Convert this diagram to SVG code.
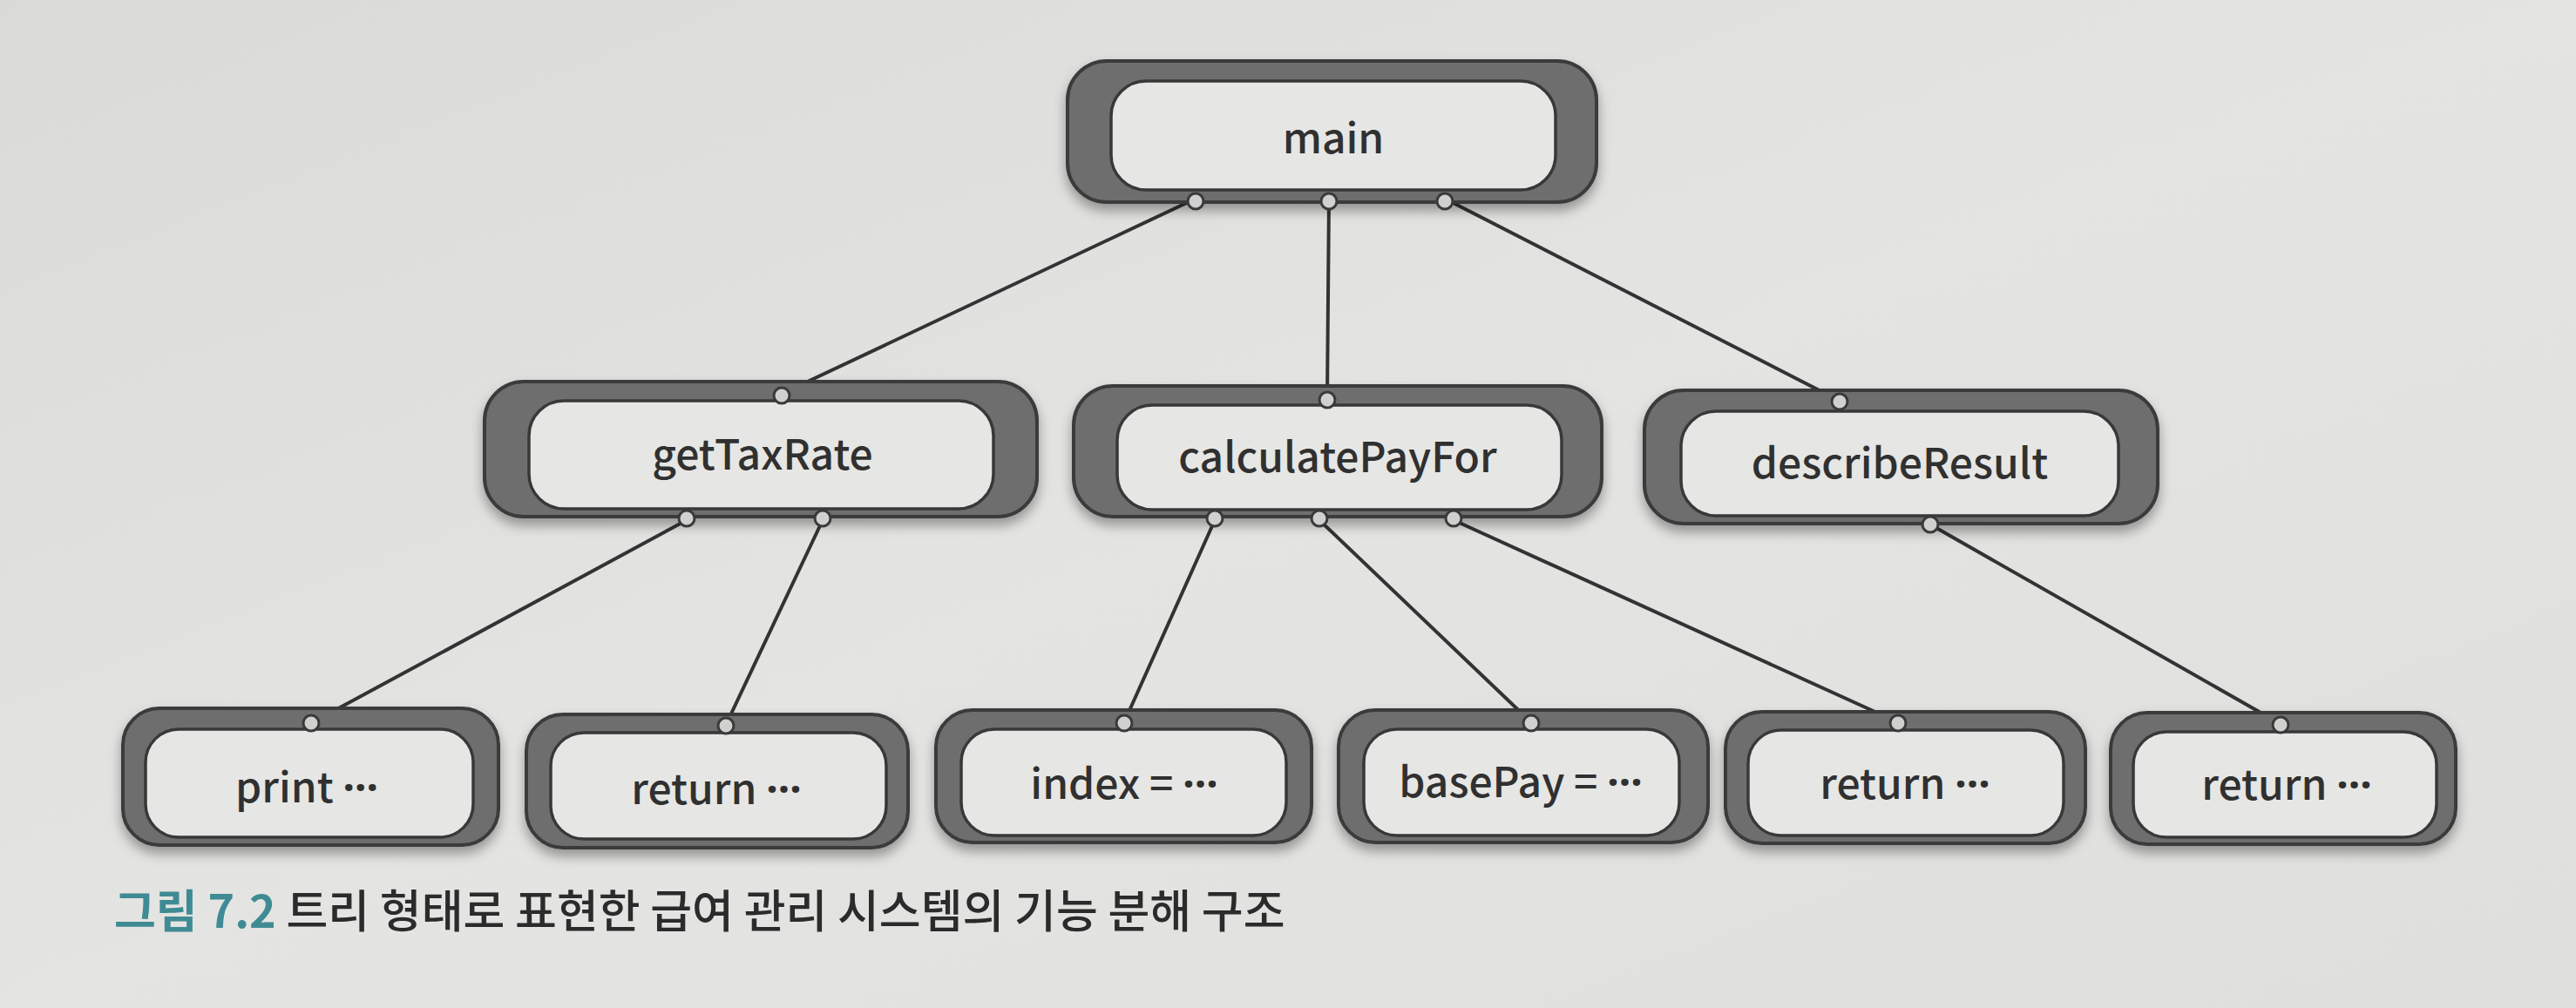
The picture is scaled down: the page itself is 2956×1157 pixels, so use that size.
<svg xmlns="http://www.w3.org/2000/svg" width="2956" height="1157" viewBox="0 0 2956 1157">
<defs>
<linearGradient id="bg" x1="0" y1="0" x2="1" y2="1">
<stop offset="0" stop-color="#dadad8"/>
<stop offset="0.5" stop-color="#e4e4e2"/>
<stop offset="1" stop-color="#dfdfdd"/>
</linearGradient>
<filter id="sh" x="-10%" y="-20%" width="120%" height="150%">
<feDropShadow dx="0" dy="8" stdDeviation="7" flood-color="#000" flood-opacity="0.35"/>
</filter>
<style>
.outer{fill:#6e6e6e;stroke:#3a3a3a;stroke-width:4;filter:url(#sh)}
.inner{fill:#e6e6e4;stroke:#383838;stroke-width:3.5}
.lbl{font-family:"Noto Sans CJK KR","Noto Sans",sans-serif;font-size:48px;font-weight:500;fill:#303030;text-anchor:middle}
.el{font-family:"Noto Sans",sans-serif;font-weight:700;letter-spacing:0px}
.dot{fill:#d0d0ce;stroke:#3a3a3a;stroke-width:3}
.conn line{stroke:#333;stroke-width:4;stroke-linecap:round}
.cap{font-family:"Noto Sans CJK KR",sans-serif;font-size:52px;font-weight:500}
</style>
</defs>
<rect width="2956" height="1157" fill="url(#bg)"/>

<g id="connectors" class="conn">
<line x1="1372" y1="228" x2="897" y2="452"/>
<line x1="1525" y1="228" x2="1523" y2="458"/>
<line x1="1658" y1="228" x2="2111" y2="460"/>
<line x1="788" y1="597" x2="357" y2="830"/>
<line x1="944" y1="597" x2="833" y2="832"/>
<line x1="1394" y1="597" x2="1290" y2="829"/>
<line x1="1514" y1="597" x2="1757" y2="829"/>
<line x1="1668" y1="597" x2="2178" y2="829"/>
<line x1="2215" y1="602" x2="2617" y2="831"/>
</g>

<g id="main">
<rect class="outer" x="1225" y="70" width="607" height="162" rx="45"/>
<rect class="inner" x="1275" y="93" width="510" height="125" rx="40"/>
<text class="lbl" x="1530" y="176">main</text>
<circle class="dot" cx="1372" cy="231" r="9"/>
<circle class="dot" cx="1525" cy="231" r="9"/>
<circle class="dot" cx="1658" cy="231" r="9"/>
</g>

<g id="getTaxRate">
<rect class="outer" x="556" y="438" width="634" height="155" rx="45"/>
<rect class="inner" x="607" y="460" width="533" height="124" rx="40"/>
<text class="lbl" x="875" y="539">getTaxRate</text>
<circle class="dot" cx="897" cy="454" r="9"/>
<circle class="dot" cx="788" cy="595" r="9"/>
<circle class="dot" cx="944" cy="595" r="9"/>
</g>

<g id="calculatePayFor">
<rect class="outer" x="1232" y="443" width="606" height="150" rx="45"/>
<rect class="inner" x="1282" y="465" width="510" height="120" rx="40"/>
<text class="lbl" x="1535" y="542">calculatePayFor</text>
<circle class="dot" cx="1523" cy="459" r="9"/>
<circle class="dot" cx="1394" cy="595" r="9"/>
<circle class="dot" cx="1514" cy="595" r="9"/>
<circle class="dot" cx="1668" cy="595" r="9"/>
</g>

<g id="describeResult">
<rect class="outer" x="1887" y="448" width="589" height="153" rx="45"/>
<rect class="inner" x="1929" y="472" width="502" height="120" rx="40"/>
<text class="lbl" x="2180" y="549">describeResult</text>
<circle class="dot" cx="2111" cy="461" r="9"/>
<circle class="dot" cx="2215" cy="602" r="9"/>
</g>

<g id="print">
<rect class="outer" x="141" y="813" width="431" height="157" rx="42"/>
<rect class="inner" x="167" y="837" width="376" height="124" rx="38"/>
<text class="lbl" x="352" y="921">print <tspan class="el">···</tspan></text>
<circle class="dot" cx="357" cy="830" r="9"/>
</g>

<g id="return1">
<rect class="outer" x="604" y="820" width="438" height="153" rx="42"/>
<rect class="inner" x="632" y="841" width="385" height="122" rx="38"/>
<text class="lbl" x="822" y="923">return <tspan class="el">···</tspan></text>
<circle class="dot" cx="833" cy="833" r="9"/>
</g>

<g id="index">
<rect class="outer" x="1074" y="815" width="431" height="152" rx="42"/>
<rect class="inner" x="1103" y="837" width="373" height="122" rx="38"/>
<text class="lbl" x="1290" y="917">index = <tspan class="el">···</tspan></text>
<circle class="dot" cx="1290" cy="830" r="9"/>
</g>

<g id="basePay">
<rect class="outer" x="1536" y="815" width="424" height="152" rx="42"/>
<rect class="inner" x="1565" y="837" width="362" height="122" rx="38"/>
<text class="lbl" x="1745" y="915">basePay = <tspan class="el">···</tspan></text>
<circle class="dot" cx="1757" cy="830" r="9"/>
</g>

<g id="return2">
<rect class="outer" x="1980" y="817" width="413" height="151" rx="42"/>
<rect class="inner" x="2006" y="838" width="362" height="121" rx="38"/>
<text class="lbl" x="2186" y="917">return <tspan class="el">···</tspan></text>
<circle class="dot" cx="2178" cy="830" r="9"/>
</g>

<g id="return3">
<rect class="outer" x="2422" y="818" width="396" height="151" rx="42"/>
<rect class="inner" x="2448" y="840" width="348" height="121" rx="38"/>
<text class="lbl" x="2624" y="918">return <tspan class="el">···</tspan></text>
<circle class="dot" cx="2617" cy="832" r="9"/>
</g>

<text class="cap" x="131" y="1065"><tspan fill="#3f8b94" font-weight="700">그림 7.2</tspan><tspan fill="#2b2b2b"> 트리 형태로 표현한 급여 관리 시스템의 기능 분해 구조</tspan></text>
</svg>
